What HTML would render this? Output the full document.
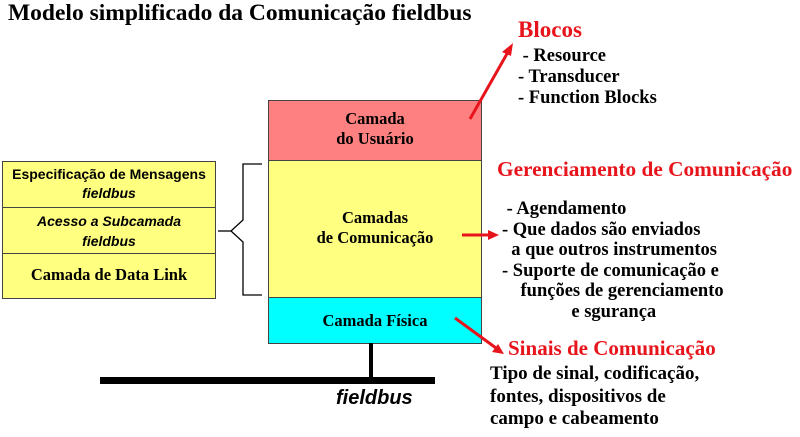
<!DOCTYPE html>
<html><head><meta charset="utf-8"><style>
body{margin:0;width:800px;height:437px;background:#fff;position:relative;overflow:hidden;font-family:"Liberation Serif",serif;font-weight:bold}
.a{position:absolute;white-space:nowrap}
.box{position:absolute;border:1px solid #444;box-sizing:border-box;text-align:center}
.r{color:#e8141c}
.s{font-family:"Liberation Sans",sans-serif;font-size:14px}
</style></head><body>
<div class="a" style="left:8px;top:0px;font-size:23.5px">Modelo simplificado da Comunicação fieldbus</div>

<div class="box" style="left:268px;top:100px;width:214px;height:61px;background:#ff8080;font-size:16.5px;line-height:20px;padding-top:8px">Camada<br>do Usuário</div>
<div class="box" style="left:268px;top:160px;width:214px;height:138px;background:#ffff80;font-size:16.5px;line-height:20px;padding-top:47px">Camadas<br>de Comunicação</div>
<div class="box" style="left:268px;top:297px;width:214px;height:47px;background:#00ffff;font-size:16.5px;line-height:20px;padding-top:13px">Camada Física</div>

<div class="box s" style="left:2px;top:161px;width:214px;height:47px;background:#ffff80;line-height:19px;padding-top:3px">Especificação de Mensagens<br><i>fieldbus</i></div>
<div class="box s" style="left:2px;top:207px;width:214px;height:47px;background:#ffff80;line-height:20px;padding-top:3px"><i>Acesso a Subcamada<br>fieldbus</i></div>
<div class="box" style="left:2px;top:253px;width:214px;height:46px;background:#ffff80;font-size:16.5px;padding-top:11px">Camada de Data Link</div>

<svg class="a" style="left:0;top:0" width="800" height="437">
<path d="M262 164H243V220L231 231L243 242V295H262" fill="none" stroke="#000" stroke-width="1.3"/>
<path d="M231 231H218" stroke="#000" stroke-width="1.3"/>
<rect x="100" y="377" width="335" height="7" fill="#000"/>
<rect x="369" y="343" width="4" height="35" fill="#000"/>
<g stroke="#e8141c" stroke-width="3" fill="#e8141c">
<line x1="470" y1="119" x2="508" y2="52"/><polygon points="513,43 502,52 511,56" stroke="none"/>
<line x1="462" y1="235" x2="490" y2="235"/><polygon points="499,235 488,230 488,240" stroke="none"/>
<line x1="455" y1="318" x2="496" y2="348"/><polygon points="504,354 492,352 498,344" stroke="none"/>
</g>
</svg>
<div class="a" style="left:336px;top:387px;font-size:20px;font-style:italic;font-family:'Liberation Sans',sans-serif">fieldbus</div>

<div class="a r" style="left:518px;top:17px;font-size:23px">Blocos</div>
<div class="a" style="left:518px;top:46px;font-size:18.5px;line-height:21px">&nbsp;- Resource<br>- Transducer<br>- Function Blocks</div>
<div class="a r" style="left:497px;top:157px;font-size:21.3px">Gerenciamento de Comunicação</div>
<div class="a" style="left:502px;top:199px;font-size:18.5px;line-height:20.5px">&nbsp;- Agendamento<br>- Que dados são enviados<br>&nbsp;&nbsp;a que outros instrumentos<br>- Suporte de comunicação e<br>&nbsp;&nbsp;&nbsp;&nbsp;funções de gerenciamento<br>&nbsp;&nbsp;&nbsp;&nbsp;&nbsp;&nbsp;&nbsp;&nbsp;&nbsp;&nbsp;&nbsp;&nbsp;&nbsp;&nbsp;&nbsp;e sgurança</div>
<div class="a r" style="left:508px;top:336px;font-size:21px">Sinais de Comunicação</div>
<div class="a" style="left:490px;top:363px;font-size:19px;line-height:22.5px">Tipo de sinal, codificação,<br>fontes, dispositivos de<br>campo e cabeamento</div>
</body></html>
